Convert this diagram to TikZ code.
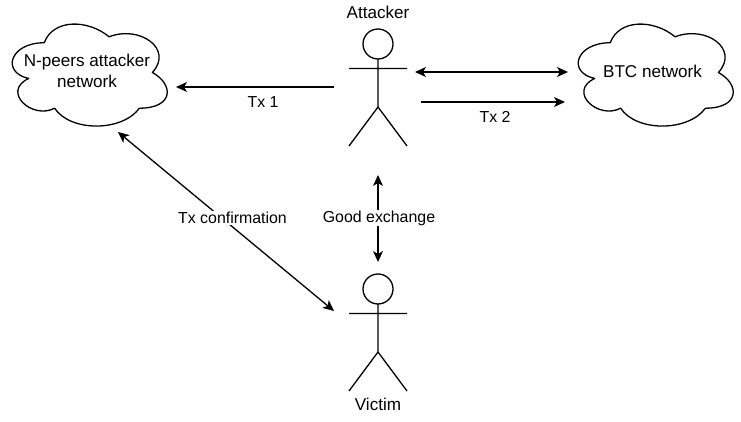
\documentclass[tikz,border=0pt]{standalone}
\usepackage{fontspec}
\setmainfont{Liberation Sans}
\usetikzlibrary{arrows.meta}
\tikzset{
  x=1pt,y=-1pt,
  line/.style={line width=1.3pt,black,line join=round},
  conn/.style={line width=1.3pt,black,-{Stealth[length=11pt,width=10pt,inset=3pt]}},
  biconn/.style={line width=1.3pt,black,{Stealth[length=11pt,width=10pt,inset=3pt]}-{Stealth[length=11pt,width=10pt,inset=3pt]}},
  lbl/.style={font=\fontsize{15.9pt}{20.5pt}\selectfont,align=center,inner sep=1pt,text=black},
  lblbg/.style={lbl,fill=white},
  biglbl/.style={lbl,font=\fontsize{17.1pt}{21pt}\selectfont},
  pics/cloudshape/.style={code={
    \draw[line] (43.25,29.75) .. controls (8.65,29.75) and (0,59.5) .. (27.68,65.45)
      .. controls (0,78.54) and (31.14,107.1) .. (53.63,95.2)
      .. controls (69.2,119) and (121.1,119) .. (138.4,95.2)
      .. controls (173,95.2) and (173,71.4) .. (151.38,59.5)
      .. controls (173,35.7) and (138.4,11.9) .. (108.13,23.8)
      .. controls (86.5,5.95) and (51.9,5.95) .. (43.25,29.75) -- cycle;
  }},
  pics/actor/.style={code={
    \draw[line] (0,0) circle (15);
    \draw[line] (0,15) -- (0,63) (-29,24.5) -- (29,24.5) (0,63) -- (-29,102) (0,63) -- (29,102);
  }}
}
\begin{document}
\begin{tikzpicture}
\useasboundingbox (0,0) rectangle (741,422);
\fill[white] (0,0) rectangle (741,422);
\pic at (1,13) {cloudshape};
\pic at (567,13) {cloudshape};
\pic at (378,44) {actor};
\pic at (378,289) {actor};
\node[biglbl] (peers) at (87,70.5) {N-peers attacker\\network};
\node[biglbl] (btc) at (652.5,71) {BTC network};
\node[biglbl] (attacker) at (378,12.5) {Attacker};
\node[biglbl] (victim) at (378,404) {Victim};
\coordinate (peersE) at (176,87);
\coordinate (peersS) at (118,132);
\coordinate (btcA) at (568,72);
\coordinate (btcB) at (565,102);
\coordinate (attW) at (334,87);
\coordinate (attE) at (415,72);
\coordinate (attF) at (421,102);
\coordinate (attS) at (378,175);
\coordinate (vicN) at (378,262);
\coordinate (vicW) at (334,311);
\draw[conn] (attW) -- (peersE);
\draw[biconn] (attE) -- (btcA);
\draw[conn] (attF) -- (btcB);
\draw[biconn] (peersS) -- (vicW);
\draw[biconn] (attS) -- (vicN);
\node[lblbg] (conf) at (232.5,218) {Tx confirmation};
\node[lblbg] (good) at (379,218) {Good exchange};
\node[lbl] (tx1) at (263,102) {Tx 1};
\node[lbl] (tx2) at (495,117) {Tx 2};
\end{tikzpicture}
\end{document}
